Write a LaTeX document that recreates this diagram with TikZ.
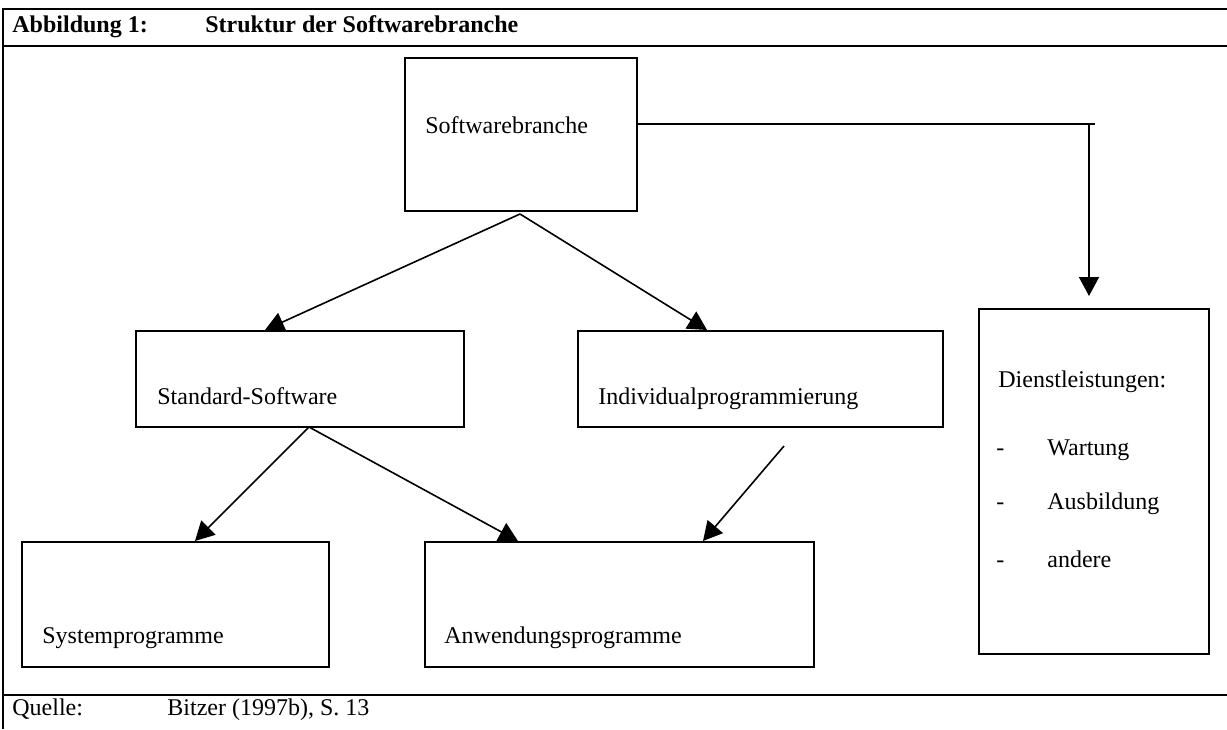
\documentclass[tikz,border=0pt]{standalone}
\usepackage{fontspec}
\setmainfont{Liberation Serif}
\usetikzlibrary{arrows.meta,positioning,calc}

\begin{document}
\begin{tikzpicture}[x=0.5pt,y=-0.5pt,
>={Triangle[length=9.5pt,width=10pt]},
frame/.style={line width=1.3pt},
box/.style={rectangle,draw,line width=0.9pt,anchor=north west,inner sep=0pt},
txt/.style={anchor=base west,inner sep=0pt,font=\fontsize{12}{14}\selectfont},
hd/.style={txt,font=\fontsize{12}{14}\selectfont\bfseries},
link/.style={line width=0.8pt}]
\useasboundingbox (0,0) rectangle (1227,729);
% outer frame
\draw[frame] (1227,9) -- (3,9) -- (3,729);
\draw[frame] (3,46) -- (1227,46);
\draw[frame] (3,695) -- (1227,695);
\node[hd] (fig) at (12,32) {Abbildung 1:};
\node[hd] (title) at (205,32) {Struktur der Softwarebranche};
\node[txt] (src) at (12,715) {Quelle:};
\node[txt] (ref) at (167,715) {Bitzer (1997b), S. 13};
% boxes
\node[box,minimum width=116pt,minimum height=76.5pt] (sw) at (404,57) {};
\node[box,minimum width=164pt,minimum height=48pt] (std) at (135,330) {};
\node[box,minimum width=182.5pt,minimum height=48pt] (ind) at (577,330) {};
\node[box,minimum width=153.5pt,minimum height=62.5pt] (sys) at (21,541) {};
\node[box,minimum width=194.5pt,minimum height=62.5pt] (anw) at (424,541) {};
\node[box,minimum width=115pt,minimum height=172.5pt] (dl) at (978,308) {};
% box texts
\node[txt] (swtxt) at (425,133) {Softwarebranche};
\node[txt] (stdtxt) at (157,404) {Standard-Software};
\node[txt] (indtxt) at (598,404) {Individualprogrammierung};
\node[txt] (systxt) at (42,643) {Systemprogramme};
\node[txt] (anwtxt) at (444,643) {Anwendungsprogramme};
\node[txt] (dltxt) at (998,387) {Dienstleistungen:};
\foreach \y/\t [count=\i] in {455/Wartung,509/Ausbildung,567/andere}{
  \node[txt] (dash\i) at (996,\y) {-};
  \node[txt] (item\i) at (1047,\y) {\t};
}
% connectors
\coordinate (swtip) at (520,214);
\coordinate (swright) at (sw.east |- 0,124);
\coordinate (corner) at (1089,124);
\coordinate (stdtip) at (309,427);
\coordinate (indtip) at (784,446);
\draw[link] (swright) -- (1095,124);
\draw[link,->] (corner) -- (corner |- 0,296);
\draw[link,->] (swtip) -- (265,330);
\draw[link,->] (swtip) -- (707,330);
\draw[link,->] (stdtip) -- (195,541);
\draw[link,->] (stdtip) -- (518,541);
\draw[link,->] (indtip) -- (703,541);
\end{tikzpicture}
\end{document}
